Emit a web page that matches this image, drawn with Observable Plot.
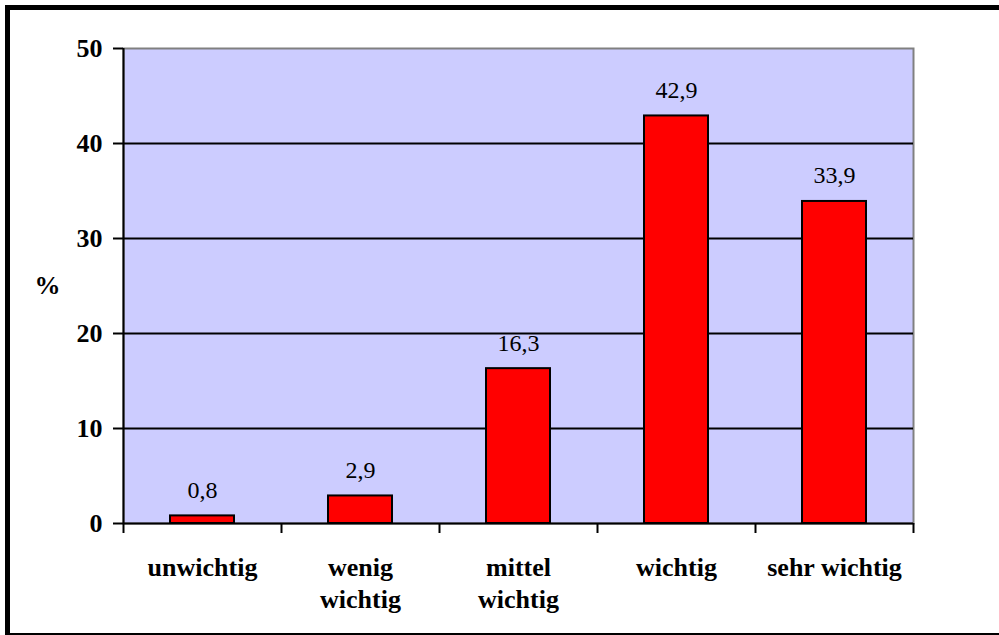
<!DOCTYPE html>
<html>
<head>
<meta charset="utf-8">
<script src="https://cdn.jsdelivr.net/npm/d3@7"></script>
<script src="https://cdn.jsdelivr.net/npm/@observablehq/plot@0.6"></script>
<style>
  html, body { margin: 0; padding: 0; background: #fff; }
  #wrap { position: relative; width: 999px; height: 635px; overflow: hidden; }
  #border { position: absolute; left: 5px; top: 5px; width: 1000px; height: 623px; border: 5px solid #000; pointer-events: none; }
  svg { display: block; }
</style>
</head>
<body>
<div id="wrap"><div id="chart"></div><div id="border"></div></div>
<script>
const categories = ["unwichtig", "wenig\nwichtig", "mittel\nwichtig", "wichtig", "sehr wichtig"];
const values = [0.8, 2.9, 16.3, 42.9, 33.9];
const yTicks = [0, 10, 20, 30, 40, 50];
const gridValues = [10, 20, 30, 40];
const yLabel = "%";

const data = categories.map((c, i) => ({cat: c, i, value: values[i], label: values[i].toFixed(1).replace(".", ",")}));
const font = "'Liberation Serif', 'Times New Roman', serif";

const chart = Plot.plot({
  width: 999,
  height: 635,
  marginLeft: 123,
  marginRight: 86,
  marginTop: 48,
  marginBottom: 112,
  style: "background: transparent; overflow: visible;",
  x: {type: "linear", domain: [0, categories.length], axis: null, label: null},
  y: {domain: [0, 50], axis: null, label: null},
  marks: [
    Plot.frame({fill: "#CCCCFF", stroke: "#808080", strokeWidth: 2}),
    Plot.ruleY(gridValues, {stroke: "#000", strokeWidth: 2}),
    Plot.rectY(data, {x1: "i", x2: d => d.i + 1, y1: 0, y2: "value", insetLeft: 47, insetRight: 47, fill: "#FF0000", stroke: "#000", strokeWidth: 2}),
    Plot.ruleY([0], {stroke: "#000", strokeWidth: 2}),
    Plot.ruleX([0], {stroke: "#000", strokeWidth: 2}),
    Plot.axisX({ticks: d3.range(categories.length + 1), tickFormat: () => "", tickSize: 10, stroke: "#000", strokeWidth: 2, label: null}),
    Plot.axisY({ticks: yTicks, tickSize: 10, tickPadding: 11, stroke: "#000", strokeWidth: 2, fontSize: 26, fontWeight: "bold", fill: "#000", label: null}),
    Plot.text(data, {x: d => d.i + 0.5, y: 0, text: "cat", lineAnchor: "top", dy: 29.5, lineHeight: 1.24, fontSize: 26, fontWeight: "bold", fill: "#000"}),
    Plot.text(data, {x: d => d.i + 0.5, y: "value", text: "label", lineAnchor: "bottom", dy: -18, fontSize: 24, fill: "#000"}),
    Plot.text([yLabel], {frameAnchor: "left", dx: -76, text: d => d, fontSize: 26, fontWeight: "bold", fill: "#000", textAnchor: "middle"})
  ]
});
d3.select(chart).attr("font-family", font).style("font-family", font);
d3.select(chart).selectAll("g, text, tspan").attr("font-family", null).style("font-family", font);
document.getElementById("chart").appendChild(chart);
</script>
</body>
</html>
